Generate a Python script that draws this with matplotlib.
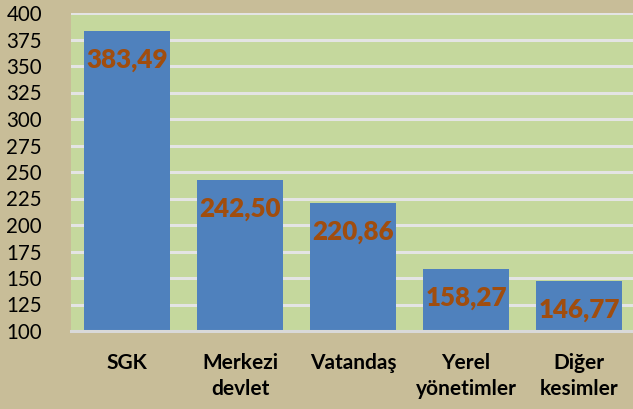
import numpy as np
import matplotlib.pyplot as plt

# data
categories = ['SGK', 'Merkezi\ndevlet', 'Vatandaş', 'Yerel\nyönetimler', 'Diğer\nkesimler']
values = [383.49, 242.50, 220.86, 158.27, 146.77]
value_labels = ['383,49', '242,50', '220,86', '158,27', '146,77']
yticks = np.arange(100, 401, 25)

plt.rcParams['font.family'] = ['Lato', 'DejaVu Sans']

fig = plt.figure(figsize=(6.33, 4.09), dpi=100)
fig.patch.set_facecolor('#C8BD98')
ax = fig.add_axes([70.5 / 633, 78 / 409, 565 / 633, 318 / 409])
ax.set_facecolor('#C5D89D')

x = np.arange(len(categories))
bars = ax.bar(x, values, width=0.76, bottom=0, color='#4F81BD', zorder=3)

ax.set_ylim(100, 400)
ax.set_xlim(-0.5, len(categories) - 0.5)
ax.set_yticks(yticks)
ax.set_yticklabels([str(v) for v in yticks], fontsize=14.8)
ax.set_xticks(x)
ax.set_xticklabels(categories, fontsize=15, fontweight='bold', linespacing=1.4)
ax.tick_params(axis='y', length=0, pad=20.5)
ax.tick_params(axis='x', length=0, pad=15.5)

ax.yaxis.grid(True, color='#E4E4E4', linewidth=2.2, zorder=1)
ax.set_axisbelow(True)
for side in ['top', 'right', 'left']:
    ax.spines[side].set_visible(False)
ax.spines['bottom'].set_color('#D9D9D9')
ax.spines['bottom'].set_linewidth(2.2)
ax.spines['bottom'].set_zorder(4)

# value labels inside top of bars
for xi, v, lab in zip(x, values, value_labels):
    ax.annotate(lab, (xi, v), xytext=(0, -29), textcoords='offset pixels',
                ha='center', va='center', fontsize=18.7, fontweight='heavy',
                color='#A04D0E', zorder=5)

fig.savefig('out.png', dpi=100, facecolor=fig.get_facecolor())
